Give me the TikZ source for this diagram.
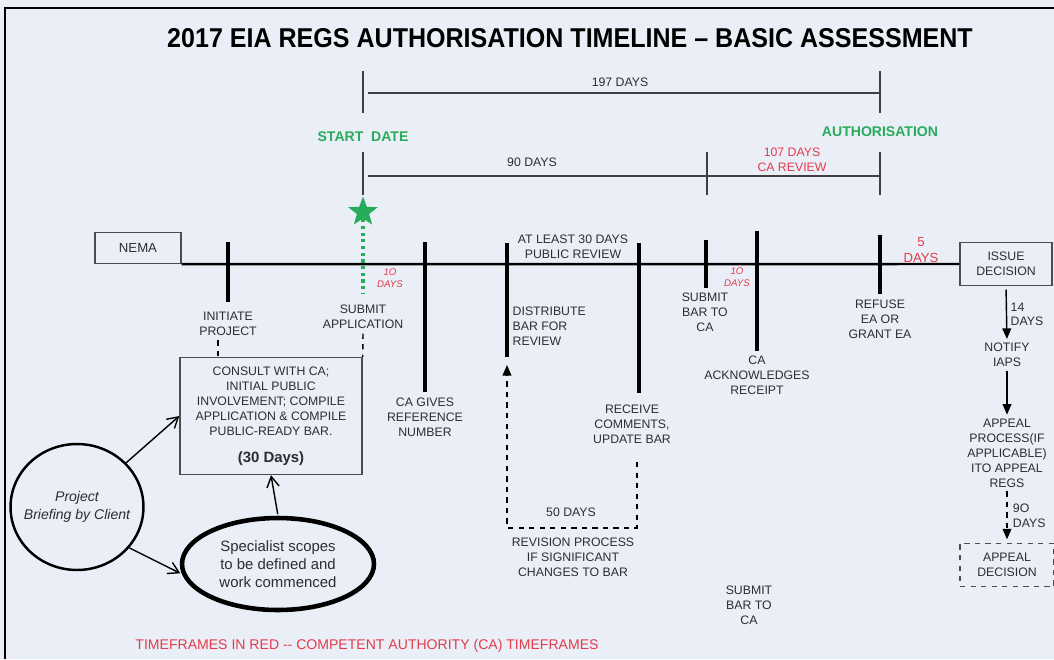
\documentclass[tikz,border=0pt]{standalone}
\usepackage{fontspec}
\setmainfont{Liberation Sans}
\usetikzlibrary{positioning,shapes.geometric,arrows.meta}
\definecolor{bgblue}{RGB}{234,238,246}
\definecolor{dategreen}{RGB}{40,172,92}
\definecolor{careed}{RGB}{226,60,76}
\definecolor{txtgray}{RGB}{45,45,52}

\begin{document}
\begin{tikzpicture}[
    x=0.02cm,
    y=-0.02cm,
    thick,
    >={Straight Barb[length=6pt,width=7pt]},
    main node/.style={text=txtgray,font=\fontsize{7}{8.5}\selectfont,align=center,inner sep=0pt},
    red node/.style={main node,text=careed},
    small red/.style={main node,text=careed,font=\fontsize{5.5}{6.5}\selectfont\itshape},
    green node/.style={text=dategreen,font=\fontsize{8}{9.6}\selectfont\bfseries,inner sep=0pt},
    box node/.style={main node,draw=black!70,line width=0.8pt},
    marker/.style={line width=2pt},
    timeline/.style={line width=1.4pt},
    dimline/.style={line width=0.6pt,black!75},
    arrowdown/.style={line width=0.8pt,shorten >=2pt,shorten <=2pt,-{Triangle[length=6pt,width=5pt]}}
    ]

    \useasboundingbox (0,0) rectangle (1054,659);
    \fill[bgblue] (0,0) rectangle (1054,659);
    \draw[line width=1.2pt] (5,659) -- (5,8) -- (1054,8);

    \node (title) at (570,38) {\scalebox{0.92}[1]{\fontsize{15.5}{18}\selectfont\bfseries 2017 EIA REGS AUTHORISATION TIMELINE – BASIC ASSESSMENT}};

    % overall durations
    \foreach \x in {363,880}
      \draw[dimline] (\x,71) -- (\x,113);
    \draw[dimline] (368,93) -- (880,93);
    \node[main node] (days197) at (620,82) {197 DAYS};
    \node[green node] (startdate) at (363,137) {START~~DATE};
    \node[green node] (authorisation) at (880,132) {AUTHORISATION};
    \foreach \x in {363,707,880}
      \draw[dimline] (\x,152) -- (\x,195);
    \draw[dimline] (368,176) -- (880,176);
    \node[main node] (days90) at (532,162) {90 DAYS};
    \node[red node] (days107) at (792,160) {107 DAYS\\CA REVIEW};

    % timeline
    \node[box node,font=\fontsize{7.5}{9}\selectfont,minimum width=1.72cm,minimum height=0.62cm] (nema) at (138,248) {NEMA};
    \node[box node,minimum width=1.84cm,minimum height=0.86cm] (issue) at (1006,264) {ISSUE\\DECISION};
    \draw[timeline] (nema.south east) -- (issue.west);
    \foreach \x/\ya/\yb in {228/242/302,425/242/392,507/243/357,639/243/393,706/240/288,757/231/351,880/235/294}
      \draw[marker] (\x,\ya) -- (\x,\yb);

    \node[star,star points=5,star point ratio=2.4,fill=dategreen,inner sep=0pt,minimum size=0.62cm] (start) at (363,212) {};
    \draw[dategreen,line width=1.8pt,dotted] (start.south) -- ++(0,75);

    \node[main node] (initiate) at (228,324) {INITIATE\\PROJECT};
    \node[main node] (submitapp) at (363,317) {SUBMIT\\APPLICATION};
    \node[main node] (refno) at (425,417) {CA GIVES\\REFERENCE\\NUMBER};
    \node[main node,align=left,anchor=west] (distribute) at (512,326) {DISTRIBUTE\\BAR FOR\\REVIEW};
    \node[main node] (review30) at (573,247) {AT LEAST 30 DAYS\\PUBLIC REVIEW};
    \node[main node] (receive) at (632,424) {RECEIVE\\COMMENTS,\\UPDATE BAR};
    \node[main node] (submitbar) at (705,312) {SUBMIT\\BAR TO\\CA};
    \node[main node] (acknow) at (757,375) {CA\\ACKNOWLEDGES\\RECEIPT};
    \node[main node] (refuse) at (880,319) {REFUSE\\EA OR\\GRANT EA};
    \node[small red] (ten1) at (390,278) {1O\\DAYS};
    \node[small red] (ten2) at (737,277) {1O\\DAYS};
    \node[red node,font=\fontsize{7.5}{9}\selectfont] (five) at (921,250) {5\\DAYS};

    % preparation phase
    \node[box node,minimum width=3.64cm,minimum height=2.34cm] (consult) at (271,416) {CONSULT WITH CA;\\INITIAL PUBLIC\\INVOLVEMENT; COMPILE\\APPLICATION \& COMPILE\\PUBLIC-READY BAR.\\[7pt]{\fontsize{8.5}{10}\selectfont\bfseries (30 Days)}};
    \draw[dashed,line width=0.8pt] (initiate.south) ++(-10,4) coordinate (initdash) -- (initdash |- consult.north);
    \draw[dashed,line width=0.8pt] (submitapp.south) ++(0,4) -- (consult.north east);

    \node[draw,ellipse,line width=1.4pt,minimum width=2.66cm,minimum height=2.52cm] (brief) at (77,507) {};
    \node[main node,font=\fontsize{8}{10.2}\selectfont\itshape] (brieftext) at (brief) {Project\\Briefing by Client};
    \node[draw,ellipse,line width=2.6pt,minimum width=3.84cm,minimum height=1.84cm] (spec) at (278,564) {};
    \node[main node,font=\fontsize{8.5}{10.2}\selectfont] (spectext) at (spec) {Specialist scopes\\to be defined and\\work commenced};
    \draw[->,line width=0.8pt] (brief.42) -- (consult.west);
    \draw[->,line width=0.8pt,shorten >=1pt] (brief.-38) -- (spec.186);
    \draw[->,line width=0.8pt,shorten <=1pt] (spec.north) -- (consult.south);

    % revision loop
    \coordinate (loopstart) at (637,462);
    \coordinate (loopbottom) at (507,528);
    \coordinate (loopend) at (507,365);
    \draw[dashed,line width=0.8pt,-{Triangle[length=6pt,width=5pt]}] (loopstart) |- (loopbottom) -- (loopend);
    \node[main node] (days50) at (571,512) {50 DAYS};
    \node[main node] (revision) at (573,557) {REVISION PROCESS\\IF SIGNIFICANT\\CHANGES TO BAR};

    % decision and appeal
    \node[main node] (notify) at (1007,355) {NOTIFY\\IAPS};
    \node[main node] (appeal) at (1007,453) {APPEAL\\PROCESS(IF\\APPLICABLE)\\ITO APPEAL\\REGS};
    \node[box node,dashed,minimum width=1.88cm,minimum height=0.86cm] (appdec) at (1007,565) {APPEAL\\DECISION};
    \draw[arrowdown] (issue.south) -- (notify.north) node[midway,right=2pt,main node,align=left] (days14) {14\\DAYS};
    \draw[arrowdown] (notify.south) -- (appeal.north);
    \draw[arrowdown,dashed] (appeal.south) -- (appdec.north) node[midway,right=3pt,main node,align=left] (days90b) {9O\\DAYS};

    \node[main node] (submitbar2) at (749,605) {SUBMIT\\BAR TO\\CA};
    \node[red node,font=\fontsize{8}{9.6}\selectfont] (footer) at (367,646) {TIMEFRAMES IN RED -{}- COMPETENT AUTHORITY (CA) TIMEFRAMES};
\end{tikzpicture}
\end{document}
